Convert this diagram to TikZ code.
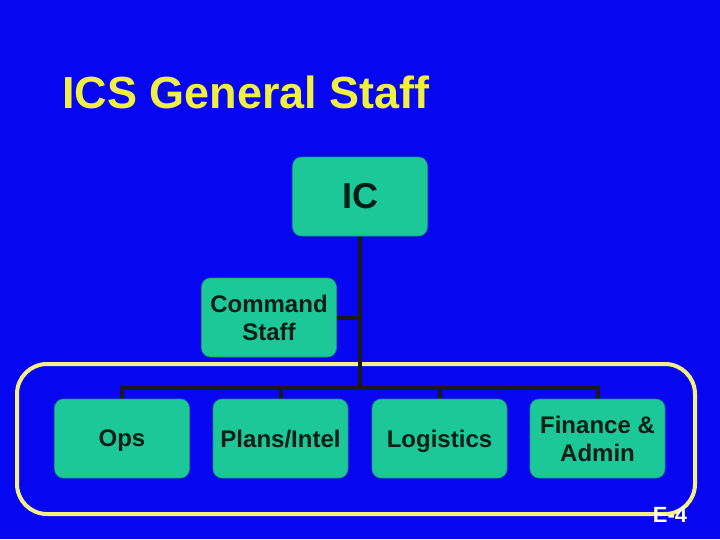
\documentclass[tikz,border=0pt]{standalone}
\usepackage{fontspec}
\setmainfont{Liberation Sans}
\usetikzlibrary{calc}
\definecolor{slideblue}{RGB}{6,6,240}
\definecolor{boxteal}{RGB}{28,200,152}
\definecolor{titleyellow}{RGB}{240,240,64}
\definecolor{frameyellow}{RGB}{245,240,130}

\begin{document}
\begin{tikzpicture}[x=1pt,y=-1pt,
    unit/.style={fill=boxteal, draw=boxteal!75!black, line width=0.6pt, rounded corners=9pt,
      minimum width=135pt, minimum height=79pt, align=center, text=black!85!boxteal,
      font=\bfseries\fontsize{24}{28}\selectfont},
    link/.style={draw=black!90, line width=4pt}]
    \fill[slideblue] (0,0) rectangle (720,539);
    \node[anchor=base west, inner sep=0pt, text=titleyellow, font=\bfseries\fontsize{45}{50}\selectfont] (title) at (62,108) {ICS General Staff};
    \draw[frameyellow, line width=4pt, rounded corners=30pt] (17,364) rectangle (695,514);
    \coordinate (bus) at (360,388);
    \draw[link] (360,236) -- (bus);
    \draw[link] (336,318) -- (360,318);
    \draw[link] (122,400) |- (bus) -| (598,400);
    \foreach \x in {280.5,439.5}{
      \draw[link] (\x,388) -- (\x,400);
    }
    \node[unit, font=\bfseries\fontsize{36}{40}\selectfont] (ic) at (360,196.5) {IC};
    \node[unit] (cmd) at (269,317.5) {Command\\Staff};
    \foreach \name/\x/\label in {ops/122/Ops, plans/280.5/{Plans/Intel}, logs/439.5/Logistics, fin/597.5/{Finance \&\\Admin}}{
      \node[unit, text depth=0pt] (\name) at (\x,438.5) {\label};
    }
    \node[text=white, font=\bfseries\fontsize{22}{24}\selectfont, inner sep=0pt] (page) at (670,515) {E-4};
\end{tikzpicture}
\end{document}
